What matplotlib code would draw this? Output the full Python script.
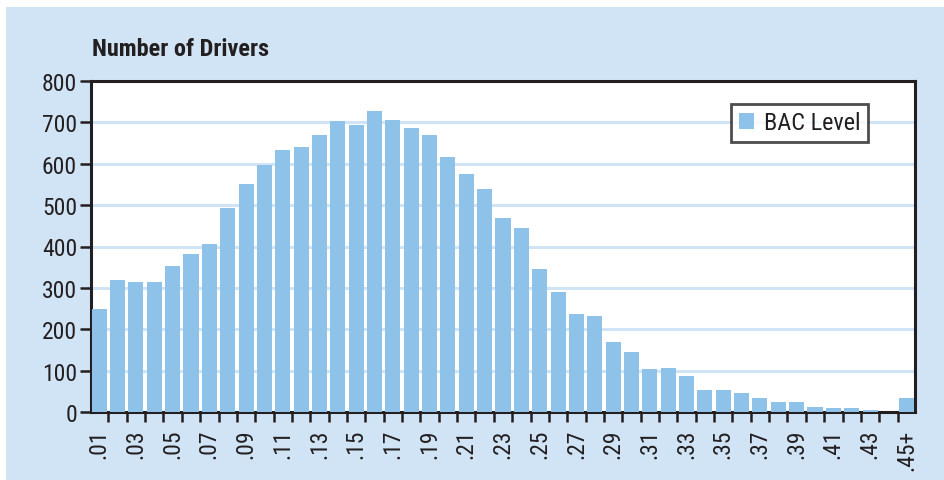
import matplotlib.pyplot as plt
from matplotlib.patches import Rectangle

# BAC levels .01 ... .44, .45+
bac_labels = [".%02d" % i for i in range(1, 45)] + [".45+"]
drivers = [
    250, 320, 313, 313, 354, 383, 407, 492, 550, 598,
    633, 640, 669, 703, 693, 727, 705, 686, 669, 616,
    575, 538, 468, 444, 345, 291, 238, 231, 170, 144,
    105, 107, 88, 54, 52, 47, 35, 23, 23, 13,
    10, 10, 5, 0, 35,
]

bg = "#d1e4f5"
bar_color = "#8fc2e9"
ink = "#231f20"
plt.rcParams["font.family"] = ["Roboto Condensed", "Liberation Sans", "DejaVu Sans"]

fig = plt.figure(figsize=(9.45, 4.81), dpi=100)
fig.patch.set_facecolor("white")
fig.patches.append(Rectangle((6 / 945, 0), 1, 1 - 8 / 481, transform=fig.transFigure,
                             facecolor=bg, edgecolor="none", zorder=-10))

ax = fig.add_axes([91 / 945, 68 / 481, 824 / 945, 331 / 481])
ax.set_facecolor("white")

x = list(range(len(drivers)))
ax.bar(x, drivers, width=0.82, color=bar_color, label="BAC Level", zorder=3)

ax.set_xlim(-0.45, len(drivers) - 0.55)
ax.set_ylim(0, 800)
ax.set_yticks(range(0, 801, 100))
ax.yaxis.grid(True, color=bg, linewidth=2.2, zorder=0)
ax.set_axisbelow(True)

ax.set_xticks(x[::2])
ax.set_xticklabels(bac_labels[::2], rotation=90, fontsize=17, color=ink)
ax.set_xticks([i + 0.5 for i in range(len(drivers) - 1)], minor=True)
ax.tick_params(axis="x", which="major", length=0, pad=12)
ax.tick_params(axis="x", which="minor", length=7, width=1.8, color=ink)
ax.tick_params(axis="y", length=8, width=1.8, color=ink, labelsize=17, labelcolor=ink, pad=2)

for s in ax.spines.values():
    s.set_color(ink)
    s.set_linewidth(2.2)

fig.text(92 / 945, 1 - 50 / 481, "Number of Drivers", fontsize=17.5, fontweight="bold",
         color=ink, va="center", ha="left")

leg = ax.legend(loc="upper right", bbox_to_anchor=(868 / 945, 1 - 105 / 481),
                bbox_transform=fig.transFigure, fontsize=17.5, frameon=True, fancybox=False,
                handlelength=0.65, handleheight=0.65, handletextpad=0.4, borderpad=0.3,
                borderaxespad=0)
leg.get_frame().set_edgecolor(ink)
leg.get_frame().set_linewidth(2)
for t in leg.get_texts():
    t.set_color(ink)

fig.savefig("out.png", dpi=100)
